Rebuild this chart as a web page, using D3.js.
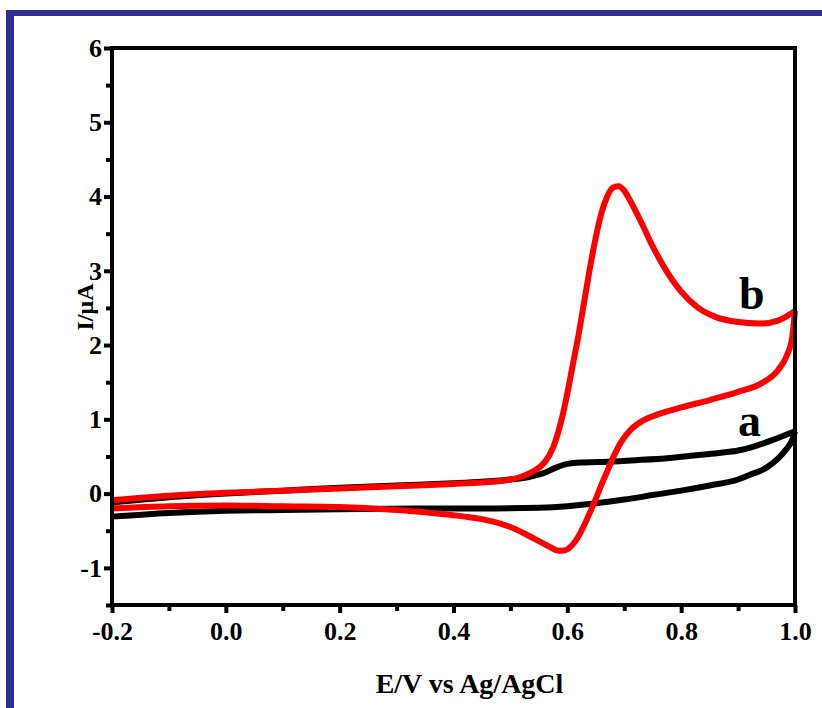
<!DOCTYPE html>
<html>
<head>
<meta charset="utf-8">
<script src="https://cdn.jsdelivr.net/npm/d3@7"></script>
<style>
  body { margin: 0; background: #fff; }
  svg text { font-family: "Liberation Serif", "Times New Roman", serif; font-weight: bold; }
</style>
</head>
<body>
<div id="chart"></div>
<script>
// curve b (red): forward (anodic) scan, then reverse scan
const redFwdE = [-0.2, -0.1, 0.0, 0.1, 0.2, 0.3, 0.4, 0.45, 0.5, 0.52, 0.54, 0.56, 0.575, 0.59, 0.60, 0.61,
  0.62, 0.63, 0.64, 0.65, 0.66, 0.67, 0.68, 0.69, 0.70, 0.71, 0.73, 0.75, 0.77, 0.80, 0.83, 0.86, 0.90,
  0.94, 0.97, 1.0];
const redFwdI = [-0.09, -0.03, 0.01, 0.04, 0.07, 0.10, 0.13, 0.15, 0.19, 0.23, 0.30, 0.42, 0.62, 1.0, 1.35, 1.75,
  2.15, 2.6, 3.05, 3.45, 3.78, 4.0, 4.12, 4.14, 4.08, 3.95, 3.65, 3.33, 3.05, 2.72, 2.50, 2.38, 2.31,
  2.29, 2.33, 2.46];
const redRevE = [1.0, 0.995, 0.985, 0.97, 0.94, 0.9, 0.85, 0.8, 0.76, 0.73, 0.71, 0.695, 0.68, 0.67, 0.66,
  0.65, 0.64, 0.63, 0.62, 0.61, 0.60, 0.59, 0.58, 0.57, 0.55, 0.52, 0.5, 0.46, 0.42, 0.35, 0.3, 0.2, 0.1,
  0.0, -0.1, -0.2];
const redRevI = [2.46, 2.1, 1.85, 1.66, 1.48, 1.37, 1.26, 1.16, 1.07, 0.97, 0.85, 0.70, 0.48, 0.30, 0.12,
  -0.07, -0.25, -0.42, -0.57, -0.68, -0.75, -0.77, -0.76, -0.72, -0.64, -0.52, -0.45, -0.36, -0.31, -0.25, -0.22, -0.18, -0.17,
  -0.16, -0.17, -0.2];

// curve a (black)
const blackFwdE = [-0.2, -0.1, 0.0, 0.1, 0.2, 0.3, 0.4, 0.45, 0.5, 0.53, 0.56, 0.58, 0.6, 0.63, 0.67, 0.72,
  0.78, 0.83, 0.87, 0.9, 0.93, 0.96, 0.98, 1.0];
const blackFwdI = [-0.12, -0.05, 0.0, 0.04, 0.08, 0.11, 0.14, 0.16, 0.19, 0.22, 0.28, 0.35, 0.40, 0.42, 0.43, 0.45,
  0.48, 0.52, 0.55, 0.58, 0.64, 0.72, 0.78, 0.84];
const blackRevE = [1.0, 0.995, 0.985, 0.97, 0.95, 0.92, 0.9, 0.85, 0.8, 0.75, 0.7, 0.65, 0.6, 0.55, 0.45,
  0.35, 0.2, 0.1, 0.0, -0.1, -0.2];
const blackRevI = [0.84, 0.72, 0.6, 0.47, 0.35, 0.25, 0.19, 0.11, 0.04, -0.02, -0.08, -0.13, -0.17, -0.19, -0.20,
  -0.20, -0.21, -0.22, -0.23, -0.26, -0.31];

const xMajor = [-0.2, 0.0, 0.2, 0.4, 0.6, 0.8, 1.0];
const xMinor = [-0.1, 0.1, 0.3, 0.5, 0.7, 0.9];
const yMajor = [-1, 0, 1, 2, 3, 4, 5, 6];
const yMinor = [-1.5, -0.5, 0.5, 1.5, 2.5, 3.5, 4.5, 5.5];

const curveLabels = [
  { name: "b", E: 0.924, I: 2.48 },
  { name: "a", E: 0.92, I: 0.77 }
];

const W = 822, H = 708;
const plotL = 112, plotT = 48, plotR = 795, plotB = 605;

const svg = d3.select("#chart").append("svg").attr("width", W).attr("height", H);

// blue frame of the figure
svg.append("rect").attr("x", 6).attr("y", 10).attr("width", W - 6).attr("height", 6).attr("fill", "#2e3192");
svg.append("rect").attr("x", 6).attr("y", 10).attr("width", 8).attr("height", H - 10).attr("fill", "#2e3192");

const x = d3.scaleLinear().domain([-0.2, 1.0]).range([plotL, plotR]);
const y = d3.scaleLinear().domain([-1.5, 6]).range([plotB, plotT]);

const line = d3.line().x(d => x(d[0])).y(d => y(d[1])).curve(d3.curveMonotoneX);

function branch(es, is) {
  return es.map((e, i) => [e, is[i]]).sort((a, b) => a[0] - b[0]);
}

function drawCurve(color, branches) {
  branches.forEach(pts => {
    svg.append("path")
      .attr("d", line(pts))
      .attr("fill", "none").attr("stroke", color).attr("stroke-width", 6)
      .attr("stroke-linejoin", "round");
  });
}

drawCurve("#000", [branch(blackFwdE, blackFwdI), branch(blackRevE, blackRevI)]);
drawCurve("#ff0000", [branch(redFwdE, redFwdI), branch(redRevE, redRevI)]);

// axes
const fmtX = d => d3.format(".1f")(d).replace("−", "-");
svg.append("g").attr("transform", `translate(0,${plotB})`)
  .call(d3.axisBottom(x).tickValues(xMajor).tickFormat(fmtX).tickSize(8).tickPadding(9));
svg.append("g").attr("transform", `translate(0,${plotB})`)
  .call(d3.axisBottom(x).tickValues(xMinor).tickFormat("").tickSize(6));
svg.append("g").attr("transform", `translate(${plotL},0)`)
  .call(d3.axisLeft(y).tickValues(yMajor).tickFormat(d => String(d)).tickSize(8).tickPadding(2));
svg.append("g").attr("transform", `translate(${plotL},0)`)
  .call(d3.axisLeft(y).tickValues(yMinor).tickFormat("").tickSize(6));

svg.selectAll(".domain").remove();
svg.selectAll(".tick line").attr("stroke", "#000").attr("stroke-width", 4);
svg.selectAll(".tick text").attr("fill", "#000").attr("font-size", 26);

svg.append("rect")
  .attr("x", plotL).attr("y", plotT).attr("width", plotR - plotL).attr("height", plotB - plotT)
  .attr("fill", "none").attr("stroke", "#000").attr("stroke-width", 4);

// axis titles
svg.append("text").attr("x", (plotL + plotR) / 2 + 16).attr("y", 693)
  .attr("text-anchor", "middle").attr("font-size", 28).text("E/V vs Ag/AgCl");
svg.append("text").attr("transform", "translate(93,307) rotate(-90)")
  .attr("text-anchor", "middle").attr("font-size", 24).text("I/μA");

// curve names
svg.selectAll(".curve-label").data(curveLabels).enter().append("text")
  .attr("class", "curve-label")
  .attr("x", d => x(d.E)).attr("y", d => y(d.I))
  .attr("text-anchor", "middle").attr("font-size", 46).text(d => d.name);
</script>
</body>
</html>
